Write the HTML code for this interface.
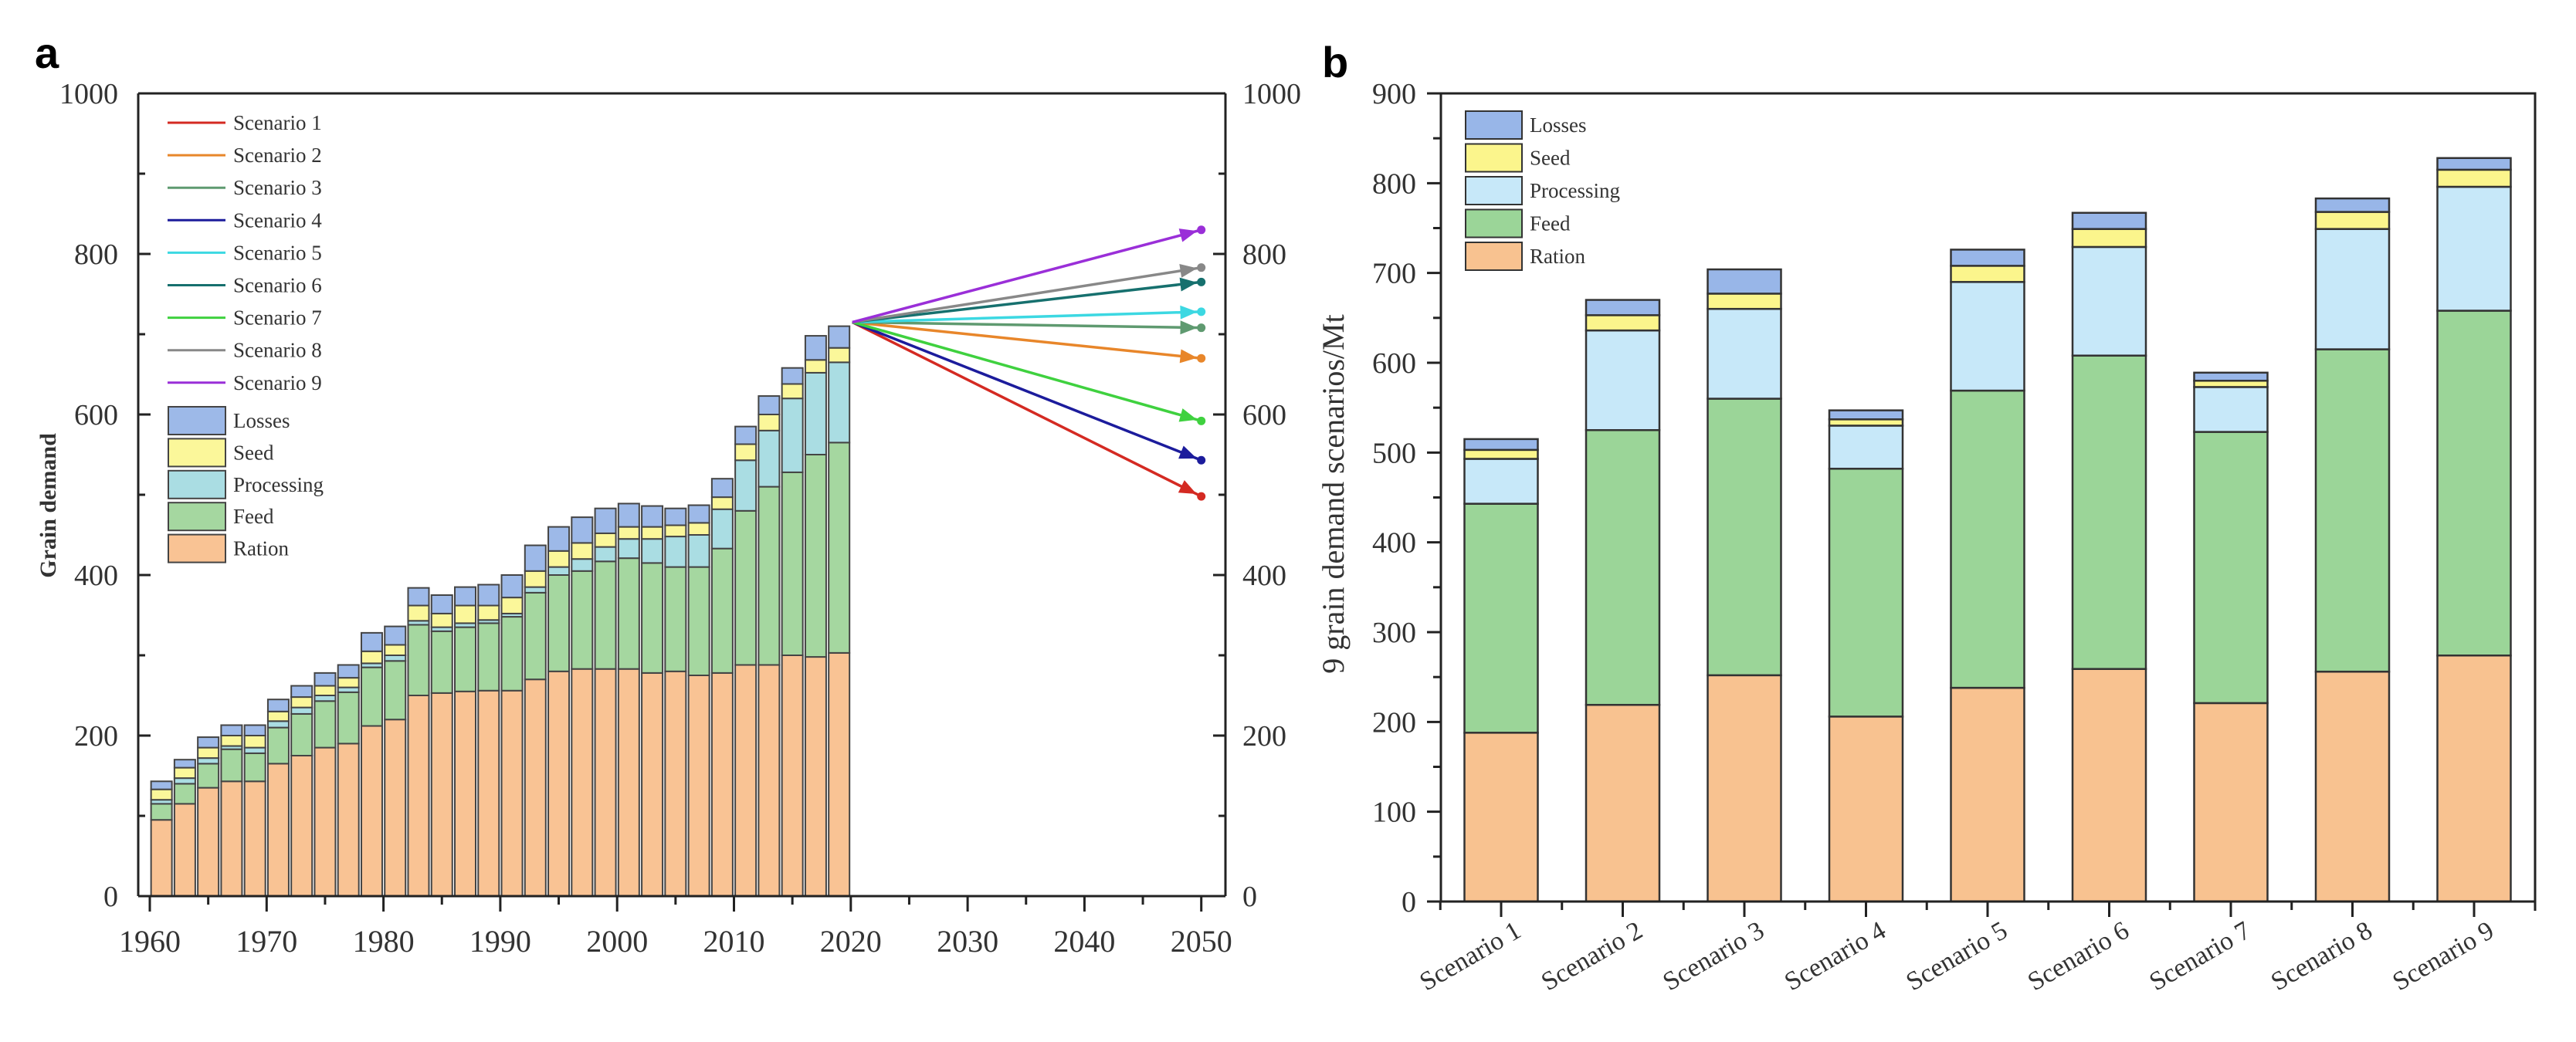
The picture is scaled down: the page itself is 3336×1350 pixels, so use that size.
<!DOCTYPE html>
<html><head><meta charset="utf-8"><style>
html,body{margin:0;padding:0;background:#fff}
svg{display:block;font-family:"Liberation Serif",serif}
</style></head><body>
<svg id="chart" width="3336" height="1350" viewBox="0 0 3336 1350">
<g id="pa"></g>
<g id="pb"></g>
</svg>
<script>
// ---- Panel a data ----
const yearsA = [1961,1963,1965,1967,1969,1971,1973,1975,1977,1979,1981,1983,1985,1987,1989,1991,1993,1995,1997,1999,2001,2003,2005,2007,2009,2011,2013,2015,2017,2019];
const rationA = [95,115,135,143,143,165,175,185,190,212,220,250,253,255,256,256,270,280,283,283,283,278,280,275,278,288,288,300,298,303];
const feedA = [20,25,30,40,35,45,52,58,64,73,73,88,77,80,84,92,108,120,122,134,138,137,130,135,155,192,222,228,252,262];
const procA = [5,7,7,4,7,8,8,7,6,5,7,5,5,5,4,4,7,10,15,18,24,30,38,40,49,63,70,92,102,100];
const seedA = [13,13,13,13,15,12,13,12,12,15,13,19,17,22,18,20,20,20,20,17,15,15,14,15,15,20,20,18,16,18];
const lossA = [10,10,13,13,13,15,14,16,16,23,23,22,23,23,26,28,32,30,32,31,29,26,21,22,23,22,23,20,30,27];
const scenNames = ["Scenario 1","Scenario 2","Scenario 3","Scenario 4","Scenario 5","Scenario 6","Scenario 7","Scenario 8","Scenario 9"];
const scen2050 = [498,670,708,543,728,765,592,783,830];
const scenStart = 715;
const yTicksA = [0,200,400,600,800,1000];
const xTicksA = [1960,1970,1980,1990,2000,2010,2020,2030,2040,2050];
// ---- Panel b data ----
const catsB = ["Scenario 1","Scenario 2","Scenario 3","Scenario 4","Scenario 5","Scenario 6","Scenario 7","Scenario 8","Scenario 9"];
const rationB = [188,219,252,206,238,259,221,256,274];
const feedB = [255,306,308,276,331,349,302,359,384];
const procB = [50,111,100,48,121,121,50,134,138];
const seedB = [10,17,17,7,18,20,7,19,19];
const lossB = [12,17,27,10,18,18,9,15,13];
const yTicksB = [0,100,200,300,400,500,600,700,800,900];
</script>
<script>
const NS="http://www.w3.org/2000/svg";
function mk(parent,tag,attrs,text){const e=document.createElementNS(NS,tag);for(const k in attrs)e.setAttribute(k,attrs[k]);if(text!==undefined)e.textContent=text;parent.appendChild(e);return e;}
const scenColors=["#d42a22","#e8862a","#5f9a70","#1c1c9c","#3cd8e2","#16706e","#3fd13f","#888888","#9a2fd8"];
const fillA=["#f9c394","#a5d7a0","#aadde3","#fbf79a","#9db9e8"];
const fillB=["#f8c290","#9bd598","#c7e8f9","#fbf58c","#98b6e8"];
const layerNames=["Ration","Feed","Processing","Seed","Losses"];

// ===== Panel A =====
const pa=document.getElementById('pa');
const aL=179,aR=1587,aT=121,aB=1161;
const xA=y=>194+(y-1960)*15.13;
const yA=v=>aB-(v/1000)*(aB-aT);
let t=mk(pa,'text',{x:45,y:88,'font-size':56,'font-weight':'bold','font-family':'Liberation Sans, sans-serif'},'a');


const layersA=[rationA,feedA,procA,seedA,lossA];
yearsA.forEach((yr,i)=>{
  let base=0;
  const g=mk(pa,'g',{});
  
  
  layersA.forEach((arr,k)=>{
    const v=arr[i];
    const r=mk(g,'rect',{x:xA(yr)-13.5,y:yA(base+v),width:27,height:yA(base)-yA(base+v),fill:fillA[k],stroke:'#444','stroke-width':2});
    
    
    base+=v;
  });
});
scen2050.forEach((v,i)=>{
  const g=mk(pa,'g',{});
  
  
  const x1=xA(2020)+2,y1=yA(scenStart),x2=xA(2050),y2=yA(v);
  mk(g,'line',{x1:x1,y1:y1,x2:x2,y2:y2,stroke:scenColors[i],'stroke-width':3.5});
  const xa=xA(2049),ya=yA(scenStart+(v-scenStart)*29/30);
  const ang=Math.atan2(y2-y1,x2-x1);
  const c=Math.cos(ang),s=Math.sin(ang);
  mk(g,'polygon',{points:`${xa+c*10},${ya+s*10} ${xa-c*12-s*9},${ya-s*12+c*9} ${xa-c*12+s*9},${ya-s*12-c*9}`,fill:scenColors[i]});
  mk(g,'circle',{cx:x2,cy:y2,r:5.5,fill:scenColors[i]});
});
mk(pa,'line',{x1:aL,y1:aT,x2:aR,y2:aT,stroke:'#222','stroke-width':3});
mk(pa,'line',{x1:aL,y1:aT,x2:aL,y2:aB,stroke:'#222','stroke-width':3});
mk(pa,'line',{x1:aR,y1:aT,x2:aR,y2:aB,stroke:'#222','stroke-width':3});
mk(pa,'line',{x1:aL,y1:aB,x2:aR,y2:aB,stroke:'#222','stroke-width':3});
yTicksA.forEach(v=>{
  const y=yA(v);
  mk(pa,'line',{x1:aL,y1:y,x2:aL+16,y2:y,stroke:'#222','stroke-width':3});
  mk(pa,'line',{x1:aR,y1:y,x2:aR-16,y2:y,stroke:'#222','stroke-width':3});
  if(v<1000){mk(pa,'line',{x1:aL,y1:yA(v+100),x2:aL+9,y2:yA(v+100),stroke:'#222','stroke-width':3});
  mk(pa,'line',{x1:aR,y1:yA(v+100),x2:aR-9,y2:yA(v+100),stroke:'#222','stroke-width':3});}
  let l=mk(pa,'text',{x:aL-26,y:y+13,'font-size':38,'text-anchor':'end',fill:'#333'},v);
  
  
  let r=mk(pa,'text',{x:aR+22,y:y+13,'font-size':38,'text-anchor':'start',fill:'#333'},v);
  
  
});
xTicksA.forEach(yr=>{
  const x=xA(yr);
  mk(pa,'line',{x1:x,y1:aB,x2:x,y2:aB+20,stroke:'#222','stroke-width':3});
  if(yr<2050)mk(pa,'line',{x1:xA(yr+5),y1:aB,x2:xA(yr+5),y2:aB+11,stroke:'#222','stroke-width':3});
  let l=mk(pa,'text',{x:x,y:aB+72,'font-size':40,'text-anchor':'middle',fill:'#333'},yr);
  
  
});
t=mk(pa,'text',{x:0,y:0,'font-size':30,'font-weight':'bold','text-anchor':'middle',fill:'#333',transform:'translate(72,655) rotate(-90)'},'Grain demand');


const legA=mk(pa,'g',{});


scenNames.forEach((n,i)=>{
  const y=159+i*42.1;
  const g=mk(legA,'g',{});
  
  
  mk(g,'line',{x1:217,y1:y,x2:292,y2:y,stroke:scenColors[i],'stroke-width':3});
  mk(g,'text',{x:302,y:y+9,'font-size':27,fill:'#333'},n);
});
[4,3,2,1,0].forEach((k,j)=>{
  const y=545+j*41.4;
  const g=mk(legA,'g',{});
  
  
  mk(g,'rect',{x:218,y:y-18,width:74,height:36,fill:fillA[k],stroke:'#444','stroke-width':2});
  mk(g,'text',{x:302,y:y+9,'font-size':27,fill:'#333'},layerNames[k]);
});

// ===== Panel B =====
const pb=document.getElementById('pb');
const bL=1866,bR=3283,bT=121,bB=1168;
const xB=i=>1944+i*157.5;
const yB=v=>bB-(v/900)*(bB-bT);
t=mk(pb,'text',{x:1712,y:100,'font-size':56,'font-weight':'bold','font-family':'Liberation Sans, sans-serif'},'b');


const layersB=[rationB,feedB,procB,seedB,lossB];
catsB.forEach((c,i)=>{
  let base=0;
  const g=mk(pb,'g',{});
  
  
  layersB.forEach((arr,k)=>{
    const v=arr[i];
    const r=mk(g,'rect',{x:xB(i)-47.5,y:yB(base+v),width:95,height:yB(base)-yB(base+v),fill:fillB[k],stroke:'#333','stroke-width':2.5});
    
    
    base+=v;
  });
});
mk(pb,'rect',{x:bL,y:bT,width:bR-bL,height:bB-bT,fill:'none',stroke:'#222','stroke-width':3});
yTicksB.forEach(v=>{
  const y=yB(v);
  mk(pb,'line',{x1:bL,y1:y,x2:bL-18,y2:y,stroke:'#222','stroke-width':3});
  if(v<900)mk(pb,'line',{x1:bL,y1:yB(v+50),x2:bL-10,y2:yB(v+50),stroke:'#222','stroke-width':3});
  let l=mk(pb,'text',{x:bL-32,y:y+13,'font-size':38,'text-anchor':'end',fill:'#333'},v);
  
  
});
mk(pb,'line',{x1:bL-10,y1:bB,x2:bL,y2:bB,stroke:'#222','stroke-width':3});
catsB.forEach((c,i)=>{
  const x=xB(i);
  mk(pb,'line',{x1:x,y1:bB,x2:x,y2:bB+20,stroke:'#222','stroke-width':3});
  mk(pb,'line',{x1:x-78.75,y1:bB,x2:x-78.75,y2:bB+11,stroke:'#222','stroke-width':3});
  let l=mk(pb,'text',{x:0,y:0,'font-size':34,'text-anchor':'end',fill:'#333',transform:`translate(${x+28},${bB+44}) rotate(-30)`},c);
  
  
});
mk(pb,'line',{x1:bR,y1:bB,x2:bR,y2:bB+12,stroke:'#222','stroke-width':3});
t=mk(pb,'text',{x:0,y:0,'font-size':40,'text-anchor':'middle',fill:'#333',transform:'translate(1740,640) rotate(-90)'},'9 grain demand scenarios/Mt');


const legB=mk(pb,'g',{});


[4,3,2,1,0].forEach((k,j)=>{
  const y=162+j*42.5;
  const g=mk(legB,'g',{});
  
  
  mk(g,'rect',{x:1898,y:y-18,width:73,height:36,fill:fillB[k],stroke:'#333','stroke-width':2});
  mk(g,'text',{x:1981,y:y+9,'font-size':27,fill:'#333'},layerNames[k]);
});
</script>
</body></html>
